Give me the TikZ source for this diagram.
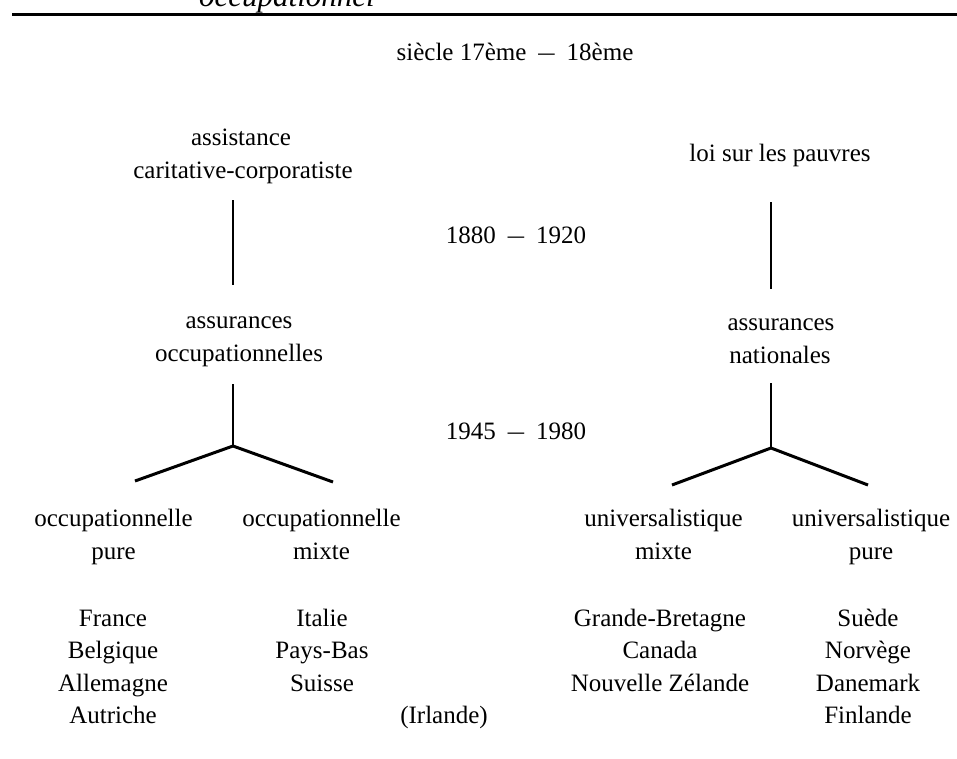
\documentclass[tikz,border=0pt]{standalone}
\usepackage{fontspec}
\setmainfont{Liberation Serif}
\usepackage{graphicx}
\usetikzlibrary{calc}
\newcommand{\dsh}{\hspace{12pt}\scalebox{1.3}[1]{–}\hspace{12pt}}
\begin{document}
\begin{tikzpicture}[x=1pt,y=-1pt,
  txt/.style={font=\fontsize{25}{30}\selectfont, inner sep=0pt, anchor=base},
  vline/.style={line width=2.4pt},
  branch/.style={line width=3pt},
  toprule/.style={line width=3pt}]
\useasboundingbox (0,0) rectangle (957,758);
\begin{scope}
  \clip (0,0) rectangle (957,12);
  \node[inner sep=0pt, anchor=base, font=\fontsize{31}{36}\selectfont\itshape] (hd) at (287,6) {occupationnel};
\end{scope}
\coordinate (rl) at (12,14.5);
\coordinate (rr) at (957,14.5);
\draw[toprule] (rl) -- (rr);

\node[txt] (sie) at (515,60) {siècle 17ème\dsh 18ème};
\node[txt] (as1) at (241,145) {assistance};
\node[txt] (as2) at (243,178) {caritative-corporatiste};
\node[txt] (loi) at (780,161) {loi sur les pauvres};
\node[txt] (d1) at (516,243) {1880\dsh 1920};
\node[txt] (ao1) at (239,328) {assurances};
\node[txt] (ao2) at (239,361) {occupationnelles};
\node[txt] (an1) at (781,330) {assurances};
\node[txt] (an2) at (780,363) {nationales};
\node[txt] (d2) at (516,439) {1945\dsh 1980};

\node[txt] (op1) at (113.5,526) {occupationnelle};
\node[txt] (op2) at (113.5,559) {pure};
\node[txt] (om1) at (321.5,526) {occupationnelle};
\node[txt] (om2) at (321.5,559) {mixte};
\node[txt] (um1) at (663.5,526) {universalistique};
\node[txt] (um2) at (663.5,559) {mixte};
\node[txt] (up1) at (871,526) {universalistique};
\node[txt] (up2) at (871,559) {pure};

\node[txt] (c11) at (113,626) {France};
\node[txt] (c12) at (113,658.5) {Belgique};
\node[txt] (c13) at (113,691) {Allemagne};
\node[txt] (c14) at (113,723.5) {Autriche};
\node[txt] (c21) at (322,626) {Italie};
\node[txt] (c22) at (322,658.5) {Pays-Bas};
\node[txt] (c23) at (322,691) {Suisse};
\node[txt] (irl) at (444,723.5) {(Irlande)};
\node[txt] (c31) at (660,626) {Grande-Bretagne};
\node[txt] (c32) at (660,658.5) {Canada};
\node[txt] (c33) at (660,691) {Nouvelle Zélande};
\node[txt] (c41) at (868,626) {Suède};
\node[txt] (c42) at (868,658.5) {Norvège};
\node[txt] (c43) at (868,691) {Danemark};
\node[txt] (c44) at (868,723.5) {Finlande};

\draw[vline] ($(as2.base)+(-10,22)$) -- ($(ao1.base)+(-6,-43)$);
\draw[vline] ($(loi.base)+(-9,41)$) -- ($(an1.base)+(-10,-41)$);

\coordinate (jl) at (233,446);
\coordinate (bl1) at (135,481);
\coordinate (bl2) at (333,482);
\draw[vline] ($(ao2.base)+(-6,23)$) -- (jl);
\draw[branch] (bl1) -- (jl) -- (bl2);

\coordinate (jr) at (771,448);
\coordinate (br1) at (672,485);
\coordinate (br2) at (868,485);
\draw[vline] ($(an2.base)+(-9,20)$) -- (jr);
\draw[branch] (br1) -- (jr) -- (br2);
\end{tikzpicture}
\end{document}
